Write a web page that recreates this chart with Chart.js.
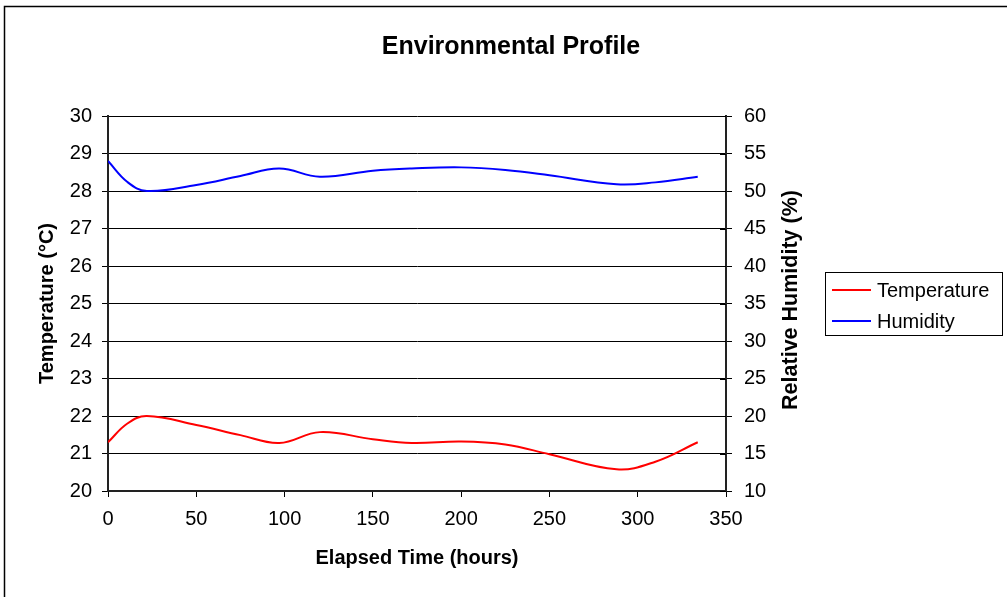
<!DOCTYPE html>
<html>
<head>
<meta charset="utf-8">
<script src="https://cdn.jsdelivr.net/npm/chart.js@4/dist/chart.umd.min.js"></script>
<style>
  html, body { margin: 0; padding: 0; background: #fff; }
  #wrap { width: 1007px; height: 597px; }
</style>
</head>
<body>
<div id="wrap"><canvas id="c" width="1007" height="597"></canvas></div>
<script>
const chartTitle = "Environmental Profile";
const xTitle = "Elapsed Time (hours)";
const leftTitle = "Temperature (°C)";
const rightTitle = "Relative Humidity (%)";
const seriesNames = ["Temperature", "Humidity"];
const seriesColors = ["#ff0000", "#0000ff"];

const hours = [0, 11, 22, 50, 75, 97, 120, 150, 172, 200, 225, 250, 288, 310, 334];
const temperature = [21.3, 21.8, 22.0, 21.76, 21.49, 21.28, 21.57, 21.38, 21.28, 21.32, 21.24, 20.98, 20.58, 20.78, 21.3];
const humidity = [54.0, 51.2, 50.0, 50.8, 52.0, 53.0, 51.9, 52.7, 53.0, 53.15, 52.8, 52.1, 50.9, 51.15, 51.9];

const xTicks = [0, 50, 100, 150, 200, 250, 300, 350];
const leftTicks = [20, 21, 22, 23, 24, 25, 26, 27, 28, 29, 30];
const rightTicks = [10, 15, 20, 25, 30, 35, 40, 45, 50, 55, 60];

const FONT = "Arial, 'Liberation Sans', sans-serif";

const decor = {
  id: 'decor',
  beforeDraw(chart) {
    const ctx = chart.ctx;
    ctx.save();
    ctx.fillStyle = '#fff';
    ctx.fillRect(0, 0, chart.width, chart.height);
    ctx.restore();
  },
  afterDraw(chart) {
    const ctx = chart.ctx;
    const a = chart.chartArea;
    ctx.save();
    // outer frame (top + left)
    ctx.strokeStyle = '#000';
    ctx.lineWidth = 1.5;
    ctx.beginPath();
    ctx.moveTo(4.5, chart.height + 2);
    ctx.lineTo(4.5, 6.5);
    ctx.lineTo(chart.width + 2, 6.5);
    ctx.stroke();

    // title
    ctx.fillStyle = '#000';
    ctx.font = 'bold 25px ' + FONT;
    ctx.textAlign = 'center';
    ctx.textBaseline = 'middle';
    ctx.fillText(chartTitle, 511, 47);

    // right axis title (reads bottom-to-top)
    ctx.font = 'bold 21.5px ' + FONT;
    ctx.save();
    ctx.translate(791, 300);
    ctx.rotate(-Math.PI / 2);
    ctx.fillText(rightTitle, 0, 0);
    ctx.restore();

    // inner tick marks on right axis
    const y1 = chart.scales.y1;
    ctx.strokeStyle = '#000';
    ctx.lineWidth = 1;
    ctx.beginPath();
    rightTicks.forEach(v => {
      const py = Math.round(y1.getPixelForValue(v)) + 0.5;
      ctx.moveTo(a.right - 6, py);
      ctx.lineTo(a.right, py);
    });
    ctx.stroke();

    // legend
    const lx = 825.5, ly = 272.5, lw = 177, lh = 63;
    ctx.fillStyle = '#fff';
    ctx.fillRect(lx, ly, lw, lh);
    ctx.strokeStyle = '#000';
    ctx.lineWidth = 1;
    ctx.strokeRect(lx, ly, lw, lh);
    ctx.font = '20px ' + FONT;
    ctx.textAlign = 'left';
    ctx.textBaseline = 'middle';
    chart.data.datasets.forEach((ds, i) => {
      const cy = 290 + i * 31;
      ctx.strokeStyle = ds.borderColor;
      ctx.lineWidth = 2;
      ctx.beginPath();
      ctx.moveTo(832, cy);
      ctx.lineTo(871, cy);
      ctx.stroke();
      ctx.fillStyle = '#000';
      ctx.fillText(ds.label, 877, cy + 1);
    });
    ctx.restore();
  }
};

new Chart(document.getElementById('c'), {
  type: 'line',
  data: {
    datasets: [
      {
        label: seriesNames[0],
        data: hours.map((h, i) => ({ x: h, y: temperature[i] })),
        borderColor: seriesColors[0],
        borderWidth: 2,
        pointRadius: 0,
        tension: 0.4,
        fill: false,
        yAxisID: 'y'
      },
      {
        label: seriesNames[1],
        data: hours.map((h, i) => ({ x: h, y: humidity[i] })),
        borderColor: seriesColors[1],
        borderWidth: 2,
        pointRadius: 0,
        tension: 0.4,
        fill: false,
        yAxisID: 'y1'
      }
    ]
  },
  options: {
    responsive: false,
    animation: false,
    devicePixelRatio: 1,
    layout: { padding: { left: 31, right: 204, top: 116, bottom: 23 } },
    plugins: {
      legend: { display: false },
      title: { display: false },
      tooltip: { enabled: false }
    },
    scales: {
      x: {
        type: 'linear',
        min: xTicks[0],
        max: xTicks[xTicks.length - 1],
        afterBuildTicks: s => { s.ticks = xTicks.map(v => ({ value: v })); },
        afterFit: s => { s.height = 83; },
        ticks: { color: '#000', font: { family: FONT, size: 20 }, padding: 10, maxRotation: 0 },
        grid: { drawOnChartArea: false, tickLength: 6, color: '#000', tickColor: '#000' },
        border: { color: '#222', width: 2 },
        title: { display: true, text: xTitle, color: '#000', font: { family: FONT, size: 20, weight: 'bold' }, padding: { top: 4, bottom: 4 } }
      },
      y: {
        position: 'left',
        min: leftTicks[0],
        max: leftTicks[leftTicks.length - 1],
        afterBuildTicks: s => { s.ticks = leftTicks.map(v => ({ value: v })); },
        afterFit: s => { s.width = 77; },
        ticks: { color: '#000', font: { family: FONT, size: 20 }, padding: 10 },
        grid: { color: '#000', lineWidth: 1, tickLength: 6, tickColor: '#000' },
        border: { color: '#222', width: 2 },
        title: { display: true, text: leftTitle, color: '#000', font: { family: FONT, size: 20, weight: 'bold' }, padding: { top: 4, bottom: 4 } }
      },
      y1: {
        position: 'right',
        min: rightTicks[0],
        max: rightTicks[rightTicks.length - 1],
        afterBuildTicks: s => { s.ticks = rightTicks.map(v => ({ value: v })); },
        afterFit: s => { s.width = 77; },
        ticks: { color: '#000', font: { family: FONT, size: 20 }, padding: 12 },
        grid: { drawOnChartArea: false, tickLength: 6, color: '#000', tickColor: '#000' },
        border: { color: '#222', width: 2 }
      }
    }
  },
  plugins: [decor]
});
</script>
</body>
</html>
